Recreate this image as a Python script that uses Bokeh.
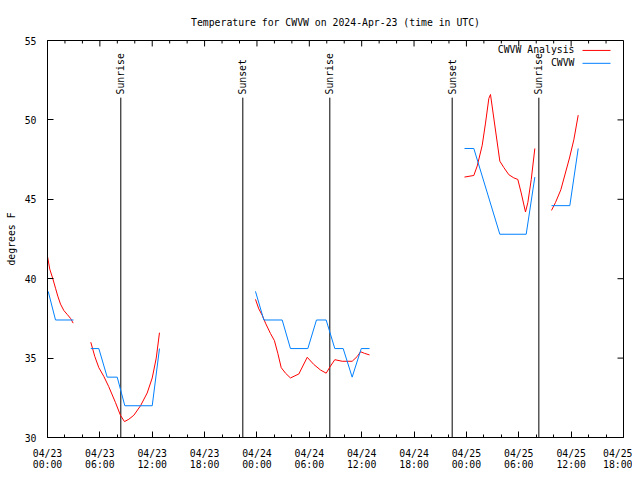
import math
from bokeh.plotting import figure
from bokeh.models import FixedTicker, Label, Range1d
from bokeh.core.properties import value
from bokeh.embed import file_html
from bokeh.resources import INLINE

NAN = float("nan")

# Time axis: hours since 2024-04-23 00:00 UTC
analysis_hours = [0.0, 0.26, 0.61, 0.92, 1.18, 1.49, 1.87, 2.26, 2.64, 2.94, NAN,
                  4.96, 5.42, 5.88, 6.45, 7.02, 7.79, 8.36, 8.82, 9.32, 9.89, 10.66, 11.42, 12.0, 12.46, 12.83, NAN,
                  23.83, 24.21, 24.6, 24.98, 25.55, 26.0, 26.39, 26.78, 27.27, 27.84, 28.8, 29.76, 30.51, 31.28,
                  31.93, 32.43, 32.92, 33.77, 34.91, 35.49, 35.87, 36.32, 36.9, NAN,
                  47.78, 48.85, 49.24, 49.81, 50.19, 50.57, 50.76, 51.83, 52.29, 52.86, 53.43, 53.89, 54.28,
                  54.77, 55.04, 55.43, 55.84, NAN,
                  57.75, 58.21, 58.82, 59.81, 60.31, 60.81]
analysis_temps = [41.4, 40.6, 40.0, 39.4, 38.9, 38.4, 38.0, 37.75, 37.5, 37.2, NAN,
                  36.0, 35.1, 34.4, 33.85, 33.2, 32.2, 31.4, 31.0, 31.15, 31.4, 32.0, 32.8, 33.75, 35.0, 36.6, NAN,
                  38.7, 38.1, 37.7, 37.2, 36.55, 36.1, 35.3, 34.4, 34.05, 33.75, 34.0, 35.05, 34.6, 34.25,
                  34.05, 34.5, 34.9, 34.8, 34.8, 35.1, 35.4, 35.3, 35.2, NAN,
                  46.4, 46.5, 47.1, 48.4, 49.8, 51.35, 51.6, 47.4, 47.0, 46.55, 46.35, 46.25, 45.4,
                  44.2, 44.8, 46.25, 48.2, NAN,
                  44.3, 44.8, 45.6, 47.6, 48.75, 50.3]

obs_hours = [0.08, 0.92, 2.98, NAN,
             4.96, 5.88, 6.84, 7.99, 8.86, 12.0, 12.83, NAN,
             23.83, 24.79, 26.89, 27.84, 29.83, 30.82, 31.93, 32.92, 33.88, 34.91, 35.95, 36.9, NAN,
             47.78, 48.85, 51.83, 54.85, 55.84, NAN,
             57.75, 59.85, 60.81]
obs_temps = [39.2, 37.4, 37.4, NAN,
             35.6, 35.6, 33.8, 33.8, 32.0, 32.0, 35.6, NAN,
             39.2, 37.4, 37.4, 35.6, 35.6, 37.4, 37.4, 35.6, 35.6, 33.8, 35.6, 35.6, NAN,
             48.2, 48.2, 42.8, 42.8, 46.4, NAN,
             44.6, 44.6, 48.2]

event_hours = [8.4, 22.38, 32.35, 46.37, 56.3]
event_names = ["Sunrise", "Sunset", "Sunrise", "Sunset", "Sunrise"]

tick_hours = [0, 6, 12, 18, 24, 30, 36, 42, 48, 54, 60, 66]
tick_labels = ["04/23\n00:00", "04/23\n06:00", "04/23\n12:00", "04/23\n18:00",
               "04/24\n00:00", "04/24\n06:00", "04/24\n12:00", "04/24\n18:00",
               "04/25\n00:00", "04/25\n06:00", "04/25\n12:00", "04/25\n18:00"]
minor_hours = [h for h in range(0, 67, 2) if h % 6 != 0]
y_ticks = [30, 35, 40, 45, 50, 55]

series_names = ["CWVW Analysis", "CWVW"]
series_colors = ["#ff0000", "#0080ff"]

TITLE = "Temperature for CWVW on 2024-Apr-23 (time in UTC)"
FONT = "DejaVu Sans Mono"
FS = "9.8px"
X0, X1 = 0, 66
Y0, Y1 = 30, 55
EVENT_LINE_TOP = 51.4
EVENT_LABEL_Y = 51.6

W, H = 632, 472
BL, BR, BT, BB = 47, 9, 40, 32
FRAME_W = W - BL - BR
FRAME_H = H - BT - BB
DX = (X1 - X0) / FRAME_W   # data units per pixel, x
DY = (Y1 - Y0) / FRAME_H   # data units per pixel, y
MAJOR_TICK = 6
MINOR_TICK = 3

p = figure(width=W, height=H, output_backend="svg", toolbar_location=None,
           x_range=Range1d(X0, X1), y_range=Range1d(Y0, Y1), title=TITLE,
           min_border_left=BL, min_border_right=BR, min_border_top=BT, min_border_bottom=BB)

p.title.text_font = FONT
p.title.text_font_size = FS
p.title.text_font_style = "normal"
p.title.text_color = "black"
p.title.align = "center"
p.title.standoff = 26
p.title.offset = -3

p.outline_line_color = "black"
p.outline_line_width = 1
p.xgrid.visible = False
p.ygrid.visible = False
p.background_fill_color = "white"
p.border_fill_color = "white"

for ax in (p.xaxis[0], p.yaxis[0]):
    ax.axis_line_color = "black"
    ax.major_tick_line_color = "black"
    ax.minor_tick_line_color = "black"
    ax.major_tick_in = MAJOR_TICK
    ax.major_tick_out = 0
    ax.minor_tick_in = MINOR_TICK
    ax.minor_tick_out = 0
    ax.major_label_text_font = FONT
    ax.major_label_text_font_size = FS
    ax.major_label_text_color = "black"

xa = p.xaxis[0]
xa.ticker = FixedTicker(ticks=tick_hours, minor_ticks=minor_hours)
xa.major_label_overrides = {h: lbl for h, lbl in zip(tick_hours, tick_labels)}
xa.major_label_standoff = 10
xa.major_label_text_line_height = 1.0

ya = p.yaxis[0]
ya.ticker = FixedTicker(ticks=y_ticks, minor_ticks=[])
ya.major_label_standoff = 11
ya.axis_label = "degrees F"
ya.axis_label_text_font = FONT
ya.axis_label_text_font_size = FS
ya.axis_label_text_font_style = "normal"
ya.axis_label_text_color = "black"
ya.axis_label_standoff = 5

# mirrored ticks on top and right borders
p.segment(x0=tick_hours, y0=[Y1] * len(tick_hours), x1=tick_hours,
          y1=[Y1 - MAJOR_TICK * DY] * len(tick_hours), line_color="black", line_width=1)
p.segment(x0=minor_hours, y0=[Y1] * len(minor_hours), x1=minor_hours,
          y1=[Y1 - MINOR_TICK * DY] * len(minor_hours), line_color="black", line_width=1)
p.segment(x0=[X1] * len(y_ticks), y0=y_ticks, x1=[X1 - MAJOR_TICK * DX] * len(y_ticks),
          y1=y_ticks, line_color="black", line_width=1)

# sunrise / sunset markers
n = len(event_hours)
p.segment(x0=event_hours, y0=[Y0] * n, x1=event_hours, y1=[EVENT_LINE_TOP] * n,
          line_color="black", line_width=1)
p.text(x=event_hours, y=[EVENT_LABEL_Y] * n, text=event_names, angle=math.pi / 2,
       text_align="left", text_baseline="middle",
       text_font=value(FONT), text_font_size=value(FS), text_color="black")

# data
p.line(analysis_hours, analysis_temps, line_color=series_colors[0], line_width=1)
p.line(obs_hours, obs_temps, line_color=series_colors[1], line_width=1)

# key (text left of line sample, as in the original); positions in frame pixels
KEY_TEXT_X = 527
KEY_LINE_X0, KEY_LINE_X1 = 535, 563
KEY_ROW_Y = [390, 377]
for name, col, ky in zip(series_names, series_colors, KEY_ROW_Y):
    p.add_layout(Label(x=KEY_TEXT_X, y=ky - 2, x_units="screen", y_units="screen", text=name,
                       text_align="right", text_baseline="middle",
                       text_font=FONT, text_font_size=FS, text_color="black"))
    p.segment(x0=[X0 + KEY_LINE_X0 * DX], y0=[Y0 + ky * DY],
              x1=[X0 + KEY_LINE_X1 * DX], y1=[Y0 + ky * DY],
              line_color=col, line_width=1)

open("out.html", "w").write(file_html(p, INLINE))
